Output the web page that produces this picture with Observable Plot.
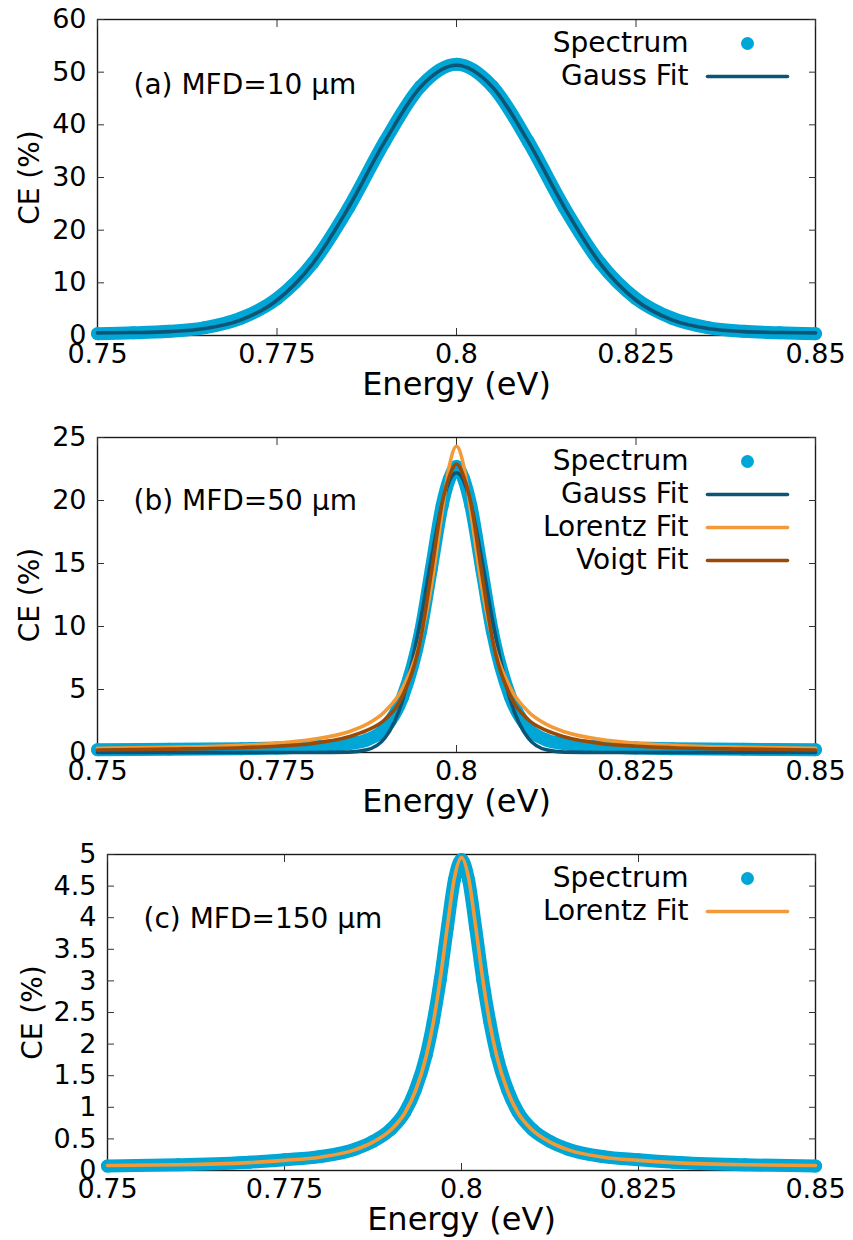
<!DOCTYPE html>
<html><head><meta charset="utf-8">
<script src="https://cdn.jsdelivr.net/npm/d3@7"></script>
<script src="https://cdn.jsdelivr.net/npm/@observablehq/plot@0.6"></script>
<style>
body{margin:0;background:#fff;}
#chart svg{display:block;}
</style>
</head><body><div id="chart"></div>
<script>
// ---------- data ----------
const xTicks = [0.75, 0.775, 0.8, 0.825, 0.85];
const xTickLabels = ["0.75", "0.775", "0.8", "0.825", "0.85"];

// Panel (a) MFD = 10 µm
const energyA = [0.75,0.755,0.76,0.765,0.77,0.775,0.78,0.785,0.79,0.795,0.8,0.805,0.81,0.815,0.82,0.825,0.83,0.835,0.84,0.845,0.85];
const spectrumA = [0.35,0.5,0.8,1.5,3.3,7.0,13.8,24.3,36.8,47.3,51.5,47.3,36.8,24.3,13.8,7.0,3.3,1.5,0.8,0.5,0.35];
const gaussA    = [0.5,0.56,0.74,1.33,2.97,6.7,13.7,24.4,36.8,47.2,51.3,47.2,36.8,24.4,13.7,6.7,2.97,1.33,0.74,0.56,0.5];
const yTicksA = [0,10,20,30,40,50,60];
const yTickLabelsA = ["0","10","20","30","40","50","60"];

// Panel (b) MFD = 50 µm
const energyB = [0.75,0.76,0.77,0.775,0.78,0.785,0.7875,0.79,0.7925,0.795,0.7965,0.798,0.799,0.8,0.801,0.802,0.8035,0.805,0.8075,0.81,0.8125,0.815,0.82,0.825,0.83,0.84,0.85];
const spectrumB = [0.22,0.25,0.3,0.35,0.45,0.7,1.0,1.9,4.4,9.6,14.6,19.6,21.7,22.7,21.7,19.6,14.6,9.6,4.4,1.9,1.0,0.7,0.45,0.35,0.3,0.25,0.22];
const gaussB    = [0,0,0,0,0,0.03,0.21,1.13,4.17,10.55,15.42,19.71,21.55,22.2,21.55,19.71,15.42,10.55,4.17,1.13,0.21,0.03,0,0,0,0,0];
const lorentzB  = [0.34,0.42,0.58,0.74,1.04,1.65,2.24,3.24,5.12,9.02,13.24,19.07,22.74,24.3,22.74,19.07,13.24,9.02,5.12,3.24,2.24,1.65,1.04,0.74,0.58,0.42,0.34];
const voigtB    = [0.2,0.27,0.38,0.5,0.72,1.25,1.75,2.6,4.5,9.0,14.3,19.8,21.9,22.9,21.9,19.8,14.3,9.0,4.5,2.6,1.75,1.25,0.72,0.5,0.38,0.27,0.2];
const yTicksB = [0,5,10,15,20,25];
const yTickLabelsB = ["0","5","10","15","20","25"];

// Panel (c) MFD = 150 µm
const energyC = [0.75,0.76,0.77,0.775,0.78,0.785,0.7875,0.79,0.792,0.7935,0.795,0.796,0.797,0.798,0.799,0.8,0.801,0.802,0.803,0.804,0.805,0.8065,0.808,0.81,0.8125,0.815,0.82,0.825,0.83,0.84,0.85];
const spectrumC = [0.07,0.09,0.13,0.17,0.22,0.34,0.46,0.65,0.92,1.28,1.82,2.35,3.02,3.84,4.6,4.92,4.6,3.84,3.02,2.35,1.82,1.28,0.92,0.65,0.46,0.34,0.22,0.17,0.13,0.09,0.07];
const lorentzC  = [0.08,0.09,0.125,0.16,0.21,0.33,0.45,0.64,0.91,1.26,1.80,2.33,3.03,3.86,4.63,4.95,4.63,3.86,3.03,2.33,1.80,1.26,0.91,0.64,0.45,0.33,0.21,0.16,0.125,0.09,0.08];
const yTicksC = [0,0.5,1,1.5,2,2.5,3,3.5,4,4.5,5];
const yTickLabelsC = ["0","0.5","1","1.5","2","2.5","3","3.5","4","4.5","5"];

// ---------- styles ----------
const COLORS = {Spectrum: "#00a6d6", "Gauss Fit": "#0b5677", "Lorentz Fit": "#f39a37", "Voigt Fit": "#9a4a06"};
const FONT = "DejaVu Sans";

const lineShape = {draw(ctx, l) { ctx.moveTo(0, 0); ctx.lineTo(0, -l); }};

function panel(cfg) {
  const {energy, series, yDomain, yTicks, yTickLabels, marginTop, marginBottom, marginLeft, height, note, labelDx, noteDy} = cfg;
  const width = 846, marginRight = 31;
  const marks = [];
  marks.push(Plot.frame({stroke: "#1a1a1a", strokeWidth: 1.4}));
  // inward ticks on all four sides
  marks.push(Plot.axisY(yTicks, {anchor: "left", tickSize: 7, dx: 7, fill: "none", label: null, stroke: "#333"}));
  marks.push(Plot.axisY(yTicks, {anchor: "right", tickSize: 7, dx: -7, fill: "none", label: null, stroke: "#333"}));
  marks.push(Plot.axisX(xTicks, {anchor: "bottom", tickSize: 7, dy: -7, fill: "none", label: null, stroke: "#333"}));
  marks.push(Plot.axisX(xTicks, {anchor: "top", tickSize: 7, dy: 7, fill: "none", label: null, stroke: "#333"}));
  // tick labels
  marks.push(Plot.axisY(yTicks, {anchor: "left", tickSize: 0, tickPadding: 11, label: null, fontSize: 27,
    tickFormat: d => yTickLabels[yTicks.indexOf(d)]}));
  marks.push(Plot.axisX(xTicks, {anchor: "bottom", tickSize: 0, tickPadding: 8, label: null, fontSize: 27,
    tickFormat: d => xTickLabels[xTicks.indexOf(d)]}));
  // axis titles
  marks.push(Plot.text(["Energy (eV)"], {frameAnchor: "bottom", dy: 49, lineAnchor: "middle", textAnchor: "middle", fontSize: 32}));
  marks.push(Plot.text(["CE (%)"], {frameAnchor: "left", dx: labelDx, rotate: -90, textAnchor: "middle", lineAnchor: "middle", fontSize: 28}));
  // data
  for (const s of series) {
    const pts = energy.map((e, i) => [e, s.values[i]]);
    if (s.name === "Spectrum") {
      marks.push(Plot.line(pts, {stroke: COLORS[s.name], strokeWidth: 13, curve: "monotone-x", strokeLinecap: "round", strokeLinejoin: "round"}));
      marks.push(Plot.dot(pts, {fill: COLORS[s.name], r: 6.5}));
    } else {
      marks.push(Plot.line(pts, {stroke: COLORS[s.name], strokeWidth: 3.6, curve: "monotone-x", strokeLinejoin: "round"}));
    }
  }
  // panel annotation
  marks.push(Plot.text([note], {frameAnchor: "top-left", dx: 36, dy: noteDy, textAnchor: "start", lineAnchor: "middle", fontSize: 28}));
  // legend
  series.forEach((s, i) => {
    const dy = 24 + i * 33;
    marks.push(Plot.text([s.name], {frameAnchor: "top-right", dx: -127, dy, textAnchor: "end", lineAnchor: "middle", fontSize: 28}));
    if (s.name === "Spectrum") {
      marks.push(Plot.dot([s.name], {frameAnchor: "top-right", dx: -68, dy, r: 6.5, fill: COLORS[s.name]}));
    } else {
      marks.push(Plot.vector([s.name], {frameAnchor: "top-right", dx: -108, dy, length: 80, rotate: 90, anchor: "start",
        shape: lineShape, stroke: COLORS[s.name], strokeWidth: 3.6}));
    }
  });
  return Plot.plot({
    width, height, marginTop, marginBottom, marginLeft, marginRight,
    style: {fontFamily: FONT, fontSize: "27px", color: "black", background: "white", overflow: "hidden"},
    x: {domain: [0.75, 0.85]},
    y: {domain: yDomain},
    marks
  });
}

const root = document.getElementById("chart");
root.append(panel({
  energy: energyA, yDomain: [0, 60], yTicks: yTicksA, yTickLabels: yTickLabelsA,
  series: [{name: "Spectrum", values: spectrumA}, {name: "Gauss Fit", values: gaussA}],
  height: 413, marginTop: 19, marginBottom: 78, marginLeft: 97, labelDx: -67, noteDy: 66, note: "(a) MFD=10 µm"
}));
root.append(panel({
  energy: energyB, yDomain: [0, 25], yTicks: yTicksB, yTickLabels: yTickLabelsB,
  series: [{name: "Spectrum", values: spectrumB}, {name: "Gauss Fit", values: gaussB},
           {name: "Lorentz Fit", values: lorentzB}, {name: "Voigt Fit", values: voigtB}],
  height: 413, marginTop: 24, marginBottom: 74, marginLeft: 97, labelDx: -67, noteDy: 64, note: "(b) MFD=50 µm"
}));
root.append(panel({
  energy: energyC, yDomain: [0, 5], yTicks: yTicksC, yTickLabels: yTickLabelsC,
  series: [{name: "Spectrum", values: spectrumC}, {name: "Lorentz Fit", values: lorentzC}],
  height: 414, marginTop: 28, marginBottom: 70, marginLeft: 107, labelDx: -74, noteDy: 65, note: "(c) MFD=150 µm"
}));
</script>
</body></html>
